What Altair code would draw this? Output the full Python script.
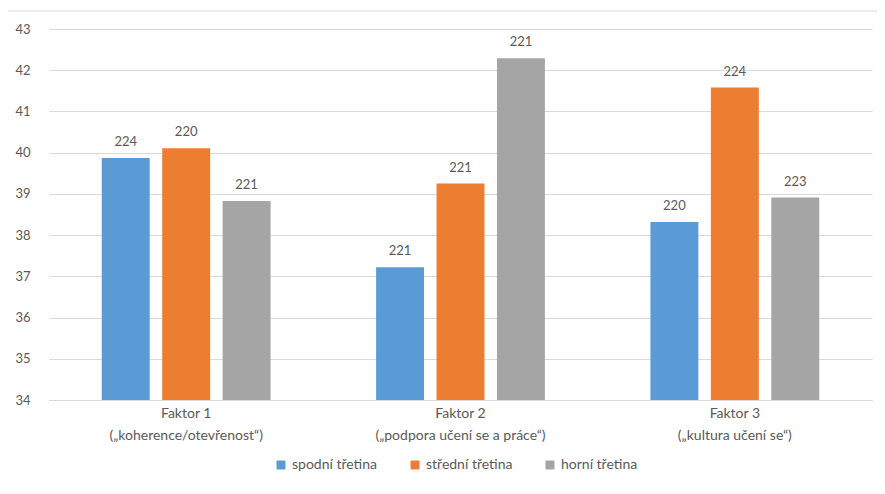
import altair as alt
import pandas as pd

factors = ["Faktor 1|(„koherence/otevřenost“)",
           "Faktor 2|(„podpora učení se a práce“)",
           "Faktor 3|(„kultura učení se“)"]
groups = ["spodní třetina", "střední třetina", "horní třetina"]
colors = ["#5B9BD5", "#ED7D31", "#A5A5A5"]

values = {
    "spodní třetina": [39.87, 37.22, 38.32],
    "střední třetina": [40.11, 39.25, 41.58],
    "horní třetina": [38.83, 42.29, 38.91],
}
counts = {
    "spodní třetina": [224, 221, 220],
    "střední třetina": [220, 221, 224],
    "horní třetina": [221, 221, 223],
}

rows = []
for g in groups:
    for i, f in enumerate(factors):
        rows.append({"faktor": f, "skupina": g, "hodnota": values[g][i], "n": counts[g][i]})
df = pd.DataFrame(rows)

FONT = "Lato"
TXT = "#595959"

x_enc = alt.X("faktor:N", sort=factors, title=None,
              scale=alt.Scale(paddingInner=0, paddingOuter=0),
              axis=alt.Axis(labelExpr="split(datum.label, '|')", labelAngle=0,
                            labelFontSize=14, labelColor=TXT, labelFont=FONT,
                            labelLineHeight=22, labelPadding=6, ticks=False,
                            domainColor="#d9d9d9", grid=False))
xoff = alt.XOffset("skupina:N", sort=groups,
                   scale=alt.Scale(paddingInner=0.207, paddingOuter=0.873))

base = alt.Chart(df)

bars = base.mark_bar().encode(
    x=x_enc,
    xOffset=xoff,
    y=alt.Y("hodnota:Q", title=None,
            scale=alt.Scale(domain=[34, 43], zero=False, nice=False),
            axis=alt.Axis(values=list(range(34, 44)), ticks=False, domain=False,
                          gridColor="#d9d9d9", labelFontSize=13, labelColor=TXT,
                          labelFont=FONT, labelPadding=19)),
    y2=alt.datum(34),
    color=alt.Color("skupina:N", sort=groups,
                    scale=alt.Scale(domain=groups, range=colors),
                    legend=alt.Legend(title=None, orient="none", direction="horizontal",
                                      legendX=225, legendY=429, symbolType="square",
                                      symbolSize=80, symbolStrokeWidth=0,
                                      labelFontSize=14, labelColor=TXT, labelFont=FONT,
                                      columnPadding=30, labelOffset=4)),
)

labels = base.mark_text(baseline="bottom", dy=-9, fontSize=13, color=TXT, font=FONT).encode(
    x=alt.X("faktor:N", sort=factors),
    xOffset=xoff,
    y="hodnota:Q",
    text="n:Q",
)

border = alt.Chart(pd.DataFrame({"a": [0]})).mark_rect(
    fill=None, stroke="#d9d9d9", strokeWidth=1
).encode(x=alt.value(-42), x2=alt.value(840), y=alt.value(-18), y2=alt.value(470))

chart = alt.layer(border, bars, labels).properties(
    width=823, height=371,
    autosize=alt.AutoSizeParams(type="none"),
    padding={"left": 41, "top": 21, "right": 5, "bottom": 80},
).configure_view(stroke=None)

chart.save("out.html", embed_options={"renderer": "svg", "actions": False})
